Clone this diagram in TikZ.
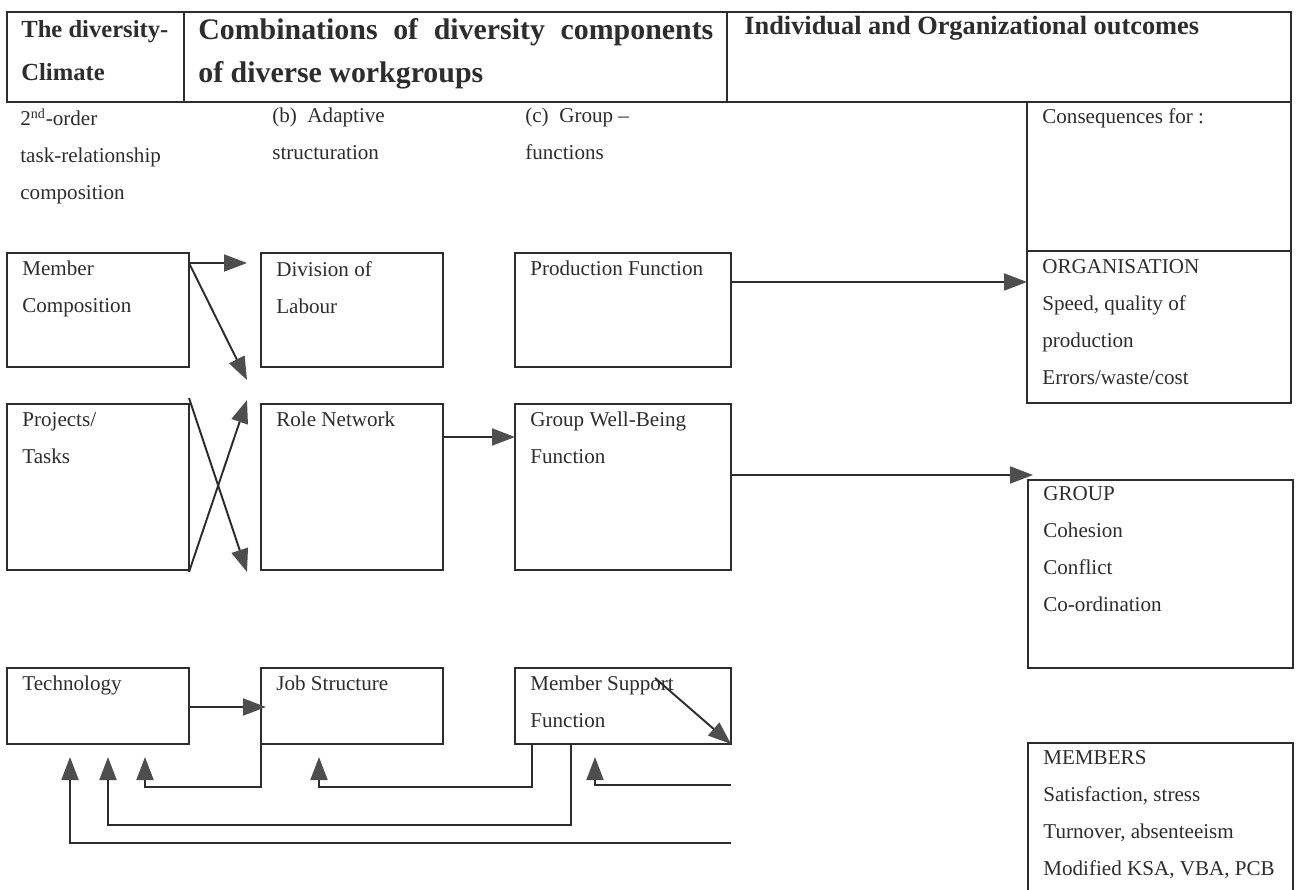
\documentclass[tikz,border=0pt]{standalone}
\usepackage{fontspec}
\setmainfont{Liberation Serif}
\usetikzlibrary{arrows.meta,positioning}
\definecolor{inkgray}{RGB}{45,45,45}
\definecolor{tipgray}{RGB}{78,78,78}

\begin{document}
\begin{tikzpicture}[>={Triangle[length=0.46cm,width=0.34cm,color=tipgray]}, node distance=1.44cm,
    box/.style={draw=inkgray, line width=0.8pt, inner sep=0pt, outer sep=0pt, minimum width=3.64cm},
    hdtxt/.style={anchor=north west, align=left, inner xsep=0.28cm, inner ysep=0.14cm, text=inkgray, font=\fontsize{15}{24.5}\selectfont\bfseries},
    boxtxt/.style={anchor=north west, align=left, inner xsep=0.3cm, inner ysep=0.16cm, text=inkgray, font=\fontsize{12}{21}\selectfont},
    coltxt/.style={anchor=north west, align=left, inner sep=0pt, text=inkgray, font=\fontsize{12}{21}\selectfont},
    arr/.style={->, draw=inkgray, line width=1.1pt}]
    \path[use as bounding box, fill=white] (0,0) rectangle (25.98,-17.78);
    \clip (0,0) rectangle (25.98,-17.78);

    \node[box, anchor=north west, minimum width=3.54cm, minimum height=1.8cm] (hdA) at (0.14,-0.24) {};
    \node[box, minimum width=10.86cm, minimum height=1.8cm, right=0cm of hdA] (hdB) {};
    \node[box, minimum width=11.28cm, minimum height=1.8cm, right=0cm of hdB] (hdC) {};
    \node[hdtxt, font=\fontsize{14}{24.5}\selectfont\bfseries, inner ysep=0.16cm] (hdAtxt) at (hdA.north west) {The diversity-\\Climate};
    \node[hdtxt, font=\fontsize{17}{24.5}\selectfont\bfseries, inner ysep=0.12cm] (hdBtxt) at (hdB.north west) {\makebox[10.3cm][s]{Combinations of diversity components}\\of diverse workgroups};
    \node[hdtxt, inner xsep=0.34cm, inner ysep=0.08cm] (hdCtxt) at (hdC.north west) {Individual and Organizational outcomes};

    \node[coltxt] (colA) at (0.4,-2.16) {2\textsuperscript{nd}-order\\task-relationship\\composition};
    \node[coltxt] (colB) at (5.44,-2.16) {(b)\enspace Adaptive\\structuration};
    \node[coltxt] (colC) at (10.5,-2.16) {(c)\enspace Group --\\functions};

    \node[box, anchor=north west, minimum height=2.28cm] (mc) at (0.14,-5.06) {};
    \node[box, minimum height=2.28cm, right=of mc] (dl) {};
    \node[box, minimum width=4.32cm, minimum height=2.28cm, right=of dl] (pf) {};
    \node[box, minimum height=3.32cm, below=0.74cm of mc] (pt) {};
    \node[box, minimum height=3.32cm, right=of pt] (rn) {};
    \node[box, minimum width=4.32cm, minimum height=3.32cm, right=of rn] (gw) {};
    \node[box, minimum height=1.52cm, below=1.96cm of pt] (tc) {};
    \node[box, minimum height=1.52cm, right=of tc] (js) {};
    \node[box, minimum width=4.32cm, minimum height=1.52cm, right=of js] (ms) {};

    \node[boxtxt] (mctxt) at (mc.north west) {Member\\Composition};
    \node[boxtxt] (dltxt) at (dl.north west) {Division of\\Labour};
    \node[boxtxt] (pftxt) at (pf.north west) {Production Function};
    \node[boxtxt] (pttxt) at (pt.north west) {Projects/\\Tasks};
    \node[boxtxt] (rntxt) at (rn.north west) {Role Network};
    \node[boxtxt] (gwtxt) at (gw.north west) {Group Well-Being\\Function};
    \node[boxtxt] (tctxt) at (tc.north west) {Technology};
    \node[boxtxt] (jstxt) at (js.north west) {Job Structure};
    \node[boxtxt] (mstxt) at (ms.north west) {Member Support\\Function};

    \node[box, anchor=north west, minimum width=5.28cm, minimum height=2.98cm] (cons) at (20.54,-2.04) {};
    \node[box, minimum width=5.28cm, minimum height=3.04cm, below=0cm of cons] (org) {};
    \node[box, anchor=north west, minimum width=5.3cm, minimum height=3.76cm] (grp) at (20.56,-9.6) {};
    \node[box, anchor=north west, minimum width=5.3cm, minimum height=3.4cm] (mem) at (20.56,-14.86) {};
    \node[boxtxt, inner ysep=0.12cm] (constxt) at (cons.north west) {Consequences for :};
    \node[boxtxt] (orgtxt) at (org.north west) {ORGANISATION\\Speed, quality of\\production\\Errors/waste/cost};
    \node[boxtxt, inner ysep=0.12cm] (grptxt) at (grp.north west) {GROUP\\Cohesion\\Conflict\\Co-ordination};
    \node[boxtxt, inner ysep=0.14cm] (memtxt) at (mem.north west) {MEMBERS\\Satisfaction, stress\\Turnover, absenteeism\\Modified KSA, VBA, PCB};

    \draw[arr] ([yshift=-0.2cm]mc.north east) -- ([xshift=-0.28cm,yshift=-0.2cm]dl.north west);
    \draw[arr] ([yshift=-0.2cm]mc.north east) -- ([xshift=-0.28cm,yshift=-0.26cm]dl.south west);
    \draw[arr] ([yshift=-0.04cm]pt.south east) -- ([xshift=-0.28cm,yshift=0.08cm]rn.north west);
    \draw[arr] ([yshift=0.12cm]pt.north east) -- ([xshift=-0.28cm,yshift=-0.04cm]rn.south west);
    \draw[arr] ([yshift=-0.66cm]rn.north east) -- ([yshift=-0.66cm]gw.north west);
    \draw[arr] ([yshift=-0.58cm]pf.north east) -- ([yshift=-0.62cm]org.north west);
    \draw[arr] ([yshift=-1.42cm]gw.north east) -- ([xshift=0.1cm,yshift=0.1cm]grp.north west);
    \draw[arr] ([yshift=-0.78cm]tc.north east) -- ([xshift=0.1cm,yshift=-0.78cm]js.north west);
    \draw[arr] ([xshift=2.8cm,yshift=-0.2cm]ms.north west) -- (ms.south east);

    \draw[arr] (js.south west) -- ++(0,-0.86) -| ([xshift=2.76cm,yshift=-0.26cm]tc.south west);
    \draw[arr] ([xshift=0.34cm]ms.south west) -- ++(0,-0.86) -| ([xshift=1.16cm,yshift=-0.26cm]js.south west);
    \draw[arr] ([xshift=1.12cm]ms.south west) -- ++(0,-1.62) -| ([xshift=2.02cm,yshift=-0.26cm]tc.south west);
    \coordinate (fbA) at ([yshift=-0.82cm]ms.south east);
    \coordinate (fbB) at ([yshift=-1.98cm]ms.south east);
    \draw[arr] (fbA) -| ([xshift=1.6cm,yshift=-0.26cm]ms.south west);
    \draw[arr] (fbB) -| ([xshift=1.26cm,yshift=-0.26cm]tc.south west);
\end{tikzpicture}
\end{document}
